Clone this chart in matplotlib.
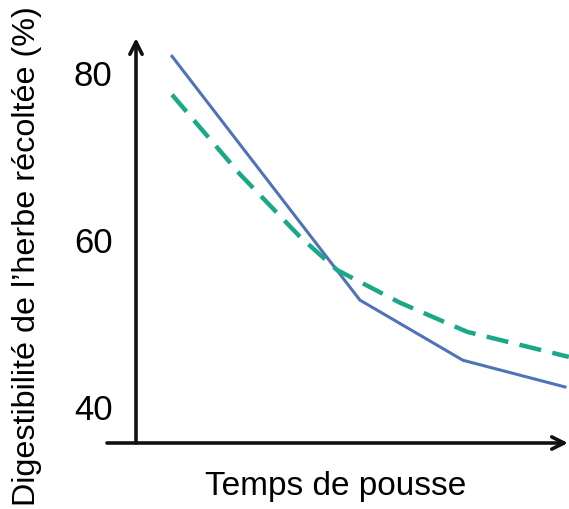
import numpy as np
import matplotlib.pyplot as plt

# Digestibilité de l'herbe (%) en fonction du temps de pousse
t_solid = [0.84, 5.22, 7.62, 10.0]
dig_solid = [82.0, 52.8, 45.6, 42.4]

t_dashed = [0.84, 2.42, 3.82, 4.69, 6.15, 7.72, 10.09]
dig_dashed = [77.4, 67.9, 60.4, 56.4, 52.5, 49.0, 46.0]

yticks = [40, 60, 80]

plt.rcParams['font.family'] = ['Liberation Sans', 'DejaVu Sans']

fig = plt.figure(figsize=(5.69, 5.09), dpi=100)
W, H = 569, 509
# axes box in pixels: x from 107 to 568, y from 38 (top) to 443 (bottom)
ax = fig.add_axes([107 / W, (H - 443) / H, (568 - 107) / W, (443 - 38) / H])

px_per_t = (565 - 136) / 10.0
px_per_pct = 8.35
x0 = -(136 - 107) / px_per_t
x1 = x0 + (568 - 107) / px_per_t
y_bot = 40 - (443 - 407) / px_per_pct
y_top = y_bot + (443 - 38) / px_per_pct
ax.set_xlim(x0, x1)
ax.set_ylim(y_bot, y_top)

for s in ax.spines.values():
    s.set_visible(False)
ax.set_xticks([])
ax.set_yticks(yticks)
ax.set_yticklabels([str(v) for v in yticks], fontsize=25)
ax.tick_params(axis='y', length=0, pad=-4)

# axes with arrows
ax.annotate('', xy=(x1, y_bot), xytext=(x0, y_bot),
            arrowprops=dict(arrowstyle='->', lw=2.6, color='#111111',
                            mutation_scale=22, shrinkA=0, shrinkB=0),
            annotation_clip=False)
ax.annotate('', xy=(0, y_top), xytext=(0, y_bot),
            arrowprops=dict(arrowstyle='->', lw=2.6, color='#111111',
                            mutation_scale=22, shrinkA=0, shrinkB=0),
            annotation_clip=False)

ax.plot(t_solid, dig_solid, color='#5073b8', lw=2.2, clip_on=False)
ax.plot(t_dashed, dig_dashed, color='#1aa888', lw=3.2, ls=(0, (5, 2.6)),
        clip_on=False)

fig.text(336 / W, (H - 487) / H, 'Temps de pousse', fontsize=24,
         ha='center', va='center')
fig.text(27 / W, (H - 256) / H, "Digestibilité de l\u2019herbe récoltée (%)",
         fontsize=23.3, rotation=90, ha='center', va='center')

fig.savefig('out.png', dpi=100)
